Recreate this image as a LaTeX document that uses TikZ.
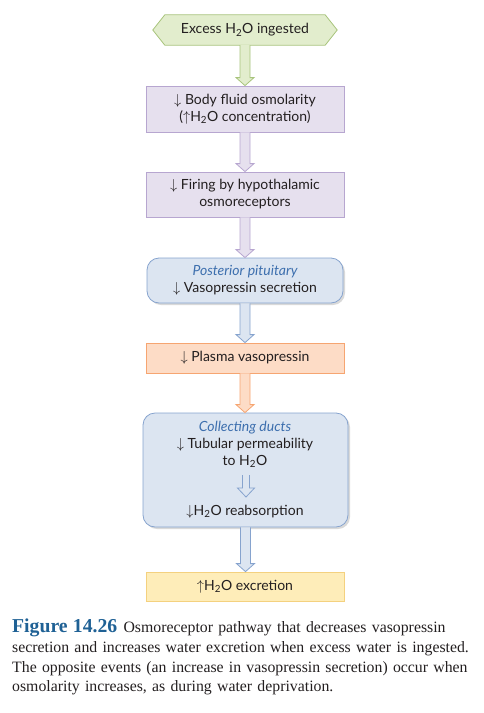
\documentclass[tikz,border=0pt]{standalone}
\usepackage{fontspec}
\setmainfont{Liberation Serif}
\newfontfamily\boxfont{Lato}
\usetikzlibrary{calc,shadows,backgrounds}
\definecolor{txt}{HTML}{231F20}
\definecolor{gfill}{HTML}{E2EDCD}
\definecolor{gdraw}{HTML}{A8C47C}
\definecolor{pfill}{HTML}{E6E0EE}
\definecolor{pdraw}{HTML}{B7A6D0}
\definecolor{bfill}{HTML}{DCE5F1}
\definecolor{bdraw}{HTML}{86A3CE}
\definecolor{bital}{HTML}{3D6FAE}
\definecolor{ofill}{HTML}{FDDCC6}
\definecolor{odraw}{HTML}{F6A571}
\definecolor{yfill}{HTML}{FEEDB9}
\definecolor{ydraw}{HTML}{F4D17F}
\definecolor{capblue}{HTML}{1F6195}
\newcommand\fatarr[3]{%
  \path[#3] let \p1=#1, \p2=#2 in
    (\x1-5pt,\y1) -- (\x1-5pt,\y2+8pt) -- (\x1-9pt,\y2+8pt) -- (\x1,\y2)
    -- (\x1+9pt,\y2+8pt) -- (\x1+5pt,\y2+8pt) -- (\x1+5pt,\y1);}
\begin{document}
\begin{tikzpicture}[x=1pt,y=-1pt,
  boxtext/.style={font=\boxfont\fontsize{14}{17}\selectfont, text=txt, align=center},
  box/.style={boxtext, draw, line width=0.8pt, minimum width=198pt, inner sep=0pt},
  purplebox/.style={box, fill=pfill, draw=pdraw, minimum height=46pt},
  bluebox/.style={box, fill=bfill, draw=bdraw, rounded corners=12pt,
     drop shadow={shadow xshift=2pt, shadow yshift=-2pt, opacity=0.25, fill=black!60}},
  orangebox/.style={box, fill=ofill, draw=odraw, minimum height=30pt},
  yellowbox/.style={box, fill=yfill, draw=ydraw, minimum height=29pt},
  garrow/.style={fill=gfill, draw=gdraw, line width=0.8pt, line join=miter},
  parrow/.style={fill=pfill, draw=pdraw, line width=0.8pt, line join=miter},
  barrow/.style={fill=bfill, draw=bdraw, line width=0.8pt, line join=miter},
  oarrow/.style={fill=ofill, draw=odraw, line width=0.8pt, line join=miter}]
\useasboundingbox (0,0) rectangle (484,713);

% hexagon start node
\node[boxtext, minimum width=160pt, minimum height=30pt, inner sep=0pt] (hex) at (245,30)
  {\raisebox{-1pt}{Excess H\textsubscript{2}O ingested}};
\begin{scope}[on background layer]
\draw[fill=gfill, draw=gdraw, line width=0.8pt]
  (hex.north west) -- (hex.north east) -- ($(hex.east)+(12pt,0)$) -- (hex.south east)
  -- (hex.south west) -- ($(hex.west)+(-12pt,0)$) -- cycle;
\end{scope}

\node[purplebox] (b1) at (245,109)
  {$\downarrow$ Body fluid osmolarity\\($\uparrow$H\textsubscript{2}O concentration)};
\node[purplebox, minimum height=45pt] (b2) at (245,194.5)
  {$\downarrow$ Firing by hypothalamic\\osmoreceptors};
\node[bluebox, minimum width=196pt, minimum height=45pt] (b3) at (245,280.5)
  {\textcolor{bital}{\itshape Posterior pituitary}\\$\downarrow$ Vasopressin secretion};
\node[orangebox] (b4) at (245,358) {$\downarrow$ Plasma vasopressin};
\node[bluebox, minimum width=205pt, minimum height=114pt] (b5) at (245.5,470) {};
\node[boxtext, inner sep=0pt] (t5a) at (245,444.5)
  {\textcolor{bital}{\itshape Collecting ducts}\\$\downarrow$ Tubular permeability\\to H\textsubscript{2}O};
\node[boxtext, inner sep=0pt] (t5b) at (245,511.5) {$\downarrow$H\textsubscript{2}O reabsorption};
\coordinate (ia1) at (246,475);
\coordinate (ia2) at (246,497);
\node[yellowbox] (b6) at (245,586.5) {$\uparrow$H\textsubscript{2}O excretion};

\fatarr{(hex.south)}{(b1.north)}{garrow}
\fatarr{(b1.south)}{(b2.north)}{parrow}
\fatarr{(b2.south)}{(b3.north)}{parrow}
\fatarr{(b3.south)}{(b4.north)}{barrow}
\fatarr{(b4.south)}{(b5.north)}{oarrow}
\fatarr{(b5.south)}{(b6.north)}{barrow}
\path[barrow] (ia1) ++(-3.5pt,0) |- ($(ia2)+(-8.5pt,9pt)$) -- (ia2) -- ($(ia2)+(8.5pt,9pt)$) -| ($(ia1)+(3.5pt,0)$);

\node[anchor=north west, inner sep=0pt, text width=475pt, align=left,
  font=\fontsize{15.8}{19.7}\selectfont, text=txt] (cap) at (12,619)
  {{\fontsize{19.7}{19.7}\selectfont\bfseries\color{capblue}Figure 14.26}\hspace{0.4em}Osmoreceptor pathway that decreases vasopressin\\
   secretion and increases water excretion when excess water is ingested.\\
   The opposite events (an increase in vasopressin secretion) occur when\\
   osmolarity increases, as during water deprivation.};
\end{tikzpicture}
\end{document}
